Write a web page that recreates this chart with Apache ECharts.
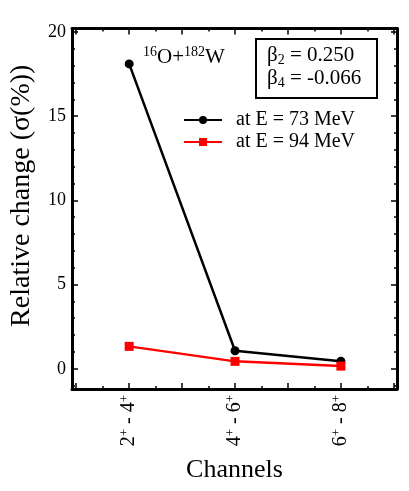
<!DOCTYPE html>
<html>
<head>
<meta charset="utf-8">
<script src="https://cdn.jsdelivr.net/npm/echarts@6/dist/echarts.min.js"></script>
<style>
  html, body { margin: 0; padding: 0; background: #fff; }
  #chart { width: 409px; height: 491px; }
</style>
</head>
<body>
<div id="chart"></div>
<script>
// transitions, e.g. 2+ - 4+
const channelFrom = ['2', '4', '6']
const channelTo = ['4', '6', '8']
const seriesNames = ['at E = 73 MeV', 'at E = 94 MeV']
const valuesE73 = [18.1, 1.07, 0.45]
const valuesE94 = [1.33, 0.44, 0.16]
const yMajorTicks = [0, 5, 10, 15, 20]

const serif = '"Liberation Serif", "DejaVu Serif", serif'
const xPos = channelFrom.map((c, i) => i + 1)

function range(a, b, step) {
  let out = []
  for (let v = a; v <= b + 1e-9; v += step) out.push(+v.toFixed(2))
  return out
}
const xMajor = range(0.5, 3.5, 0.5)
const xMinor = range(0.75, 3.25, 0.5)
const yMinor = range(-1, 20, 1).filter(v => v % 5 !== 0)

const xMin = 0.46, xMax = 3.53
const yMin = -1.2, yMax = 20.2

function xAxisDef(pos, ticks, len, main) {
  return {
    type: 'value', position: pos, min: xMin, max: xMax,
    axisLine: { show: main, onZero: false, lineStyle: { color: '#000', width: 3 } },
    axisTick: { show: true, inside: true, length: len, customValues: ticks, lineStyle: { color: '#000', width: 1.5 } },
    axisLabel: { show: false },
    splitLine: { show: false }
  }
}
function yAxisDef(pos, ticks, len, main) {
  return {
    type: 'value', position: pos, min: yMin, max: yMax,
    axisLine: { show: main, onZero: false, lineStyle: { color: '#000', width: 3 } },
    axisTick: { show: true, inside: true, length: len, customValues: ticks, lineStyle: { color: '#000', width: 1.5 } },
    axisLabel: { show: false },
    splitLine: { show: false }
  }
}

const xAxes = [
  xAxisDef('bottom', xMajor, 6, true),
  xAxisDef('bottom', xMinor, 3, false),
  xAxisDef('top', xMajor, 6, true),
  xAxisDef('top', xMinor, 3, false)
]
xAxes[0].axisLabel = {
  show: true,
  customValues: xPos,
  rotate: 90,
  margin: 6,
  color: '#000',
  fontFamily: serif,
  fontSize: 20,
  formatter: function (v) {
    const i = Math.round(v) - 1
    return '{n|' + channelFrom[i] + '}{s|+}{n| - ' + channelTo[i] + '}{s|+}'
  },
  rich: {
    n: { fontSize: 20, fontFamily: serif, color: '#000', lineHeight: 22 },
    s: { fontSize: 13, fontFamily: serif, color: '#000', verticalAlign: 'top', lineHeight: 22 }
  }
}
xAxes[0].name = 'Channels'
xAxes[0].nameLocation = 'middle'
xAxes[0].nameGap = 68
xAxes[0].nameTextStyle = { color: '#000', fontFamily: serif, fontSize: 26 }

const yAxes = [
  yAxisDef('left', yMajorTicks, 6, true),
  yAxisDef('left', yMinor, 3, false),
  yAxisDef('right', yMajorTicks, 6, true),
  yAxisDef('right', yMinor, 3, false)
]
yAxes[0].axisLabel = {
  show: true,
  customValues: yMajorTicks,
  margin: 6,
  color: '#000',
  fontFamily: serif,
  fontSize: 18
}
yAxes[0].name = 'Relative change (σ(%))'
yAxes[0].nameLocation = 'middle'
yAxes[0].nameGap = 36
yAxes[0].nameTextStyle = { color: '#000', fontFamily: serif, fontSize: 28, padding: [0, 0, 0, 26] }

const chart = echarts.init(document.getElementById('chart'))
const option = {
  backgroundColor: '#fff',
  animation: false,
  grid: { left: 68, right: 12, top: 28.5, bottom: 102, containLabel: false },
  legend: {
    left: 178,
    top: 105,
    orient: 'vertical',
    itemWidth: 38,
    itemHeight: 10,
    itemGap: 2,
    textStyle: { color: '#000', fontFamily: serif, fontSize: 20, lineHeight: 20, padding: [0, 0, 0, 9] },
    data: seriesNames
  },
  xAxis: xAxes,
  yAxis: yAxes,
  graphic: [
    {
      type: 'text', left: 143, top: 45,
      style: {
        text: '{s|16}{n|O+}{s|182}{n|W}',
        rich: {
          n: { fontSize: 21, fontFamily: serif, fill: '#000', lineHeight: 24 },
          s: { fontSize: 14, fontFamily: serif, fill: '#000', verticalAlign: 'top', lineHeight: 24 }
        }
      }
    },
    {
      type: 'rect',
      shape: { x: 256, y: 39, width: 121, height: 59 },
      style: { fill: 'none', stroke: '#000', lineWidth: 2 }
    },
    {
      type: 'text', left: 267, top: 45,
      style: {
        text: '{n|β}{b|2}{n| = 0.250}\n{n|β}{b|4}{n| = -0.066}',
        rich: {
          n: { fontSize: 21, fontFamily: serif, fill: '#000', lineHeight: 23 },
          b: { fontSize: 14, fontFamily: serif, fill: '#000', verticalAlign: 'bottom', lineHeight: 23 }
        }
      }
    }
  ],
  series: [
    {
      name: seriesNames[0],
      type: 'line',
      data: xPos.map((x, i) => [x, valuesE73[i]]),
      symbol: 'circle',
      symbolSize: 9,
      lineStyle: { color: '#000', width: 2.5 },
      itemStyle: { color: '#000' }
    },
    {
      name: seriesNames[1],
      type: 'line',
      data: xPos.map((x, i) => [x, valuesE94[i]]),
      symbol: 'rect',
      symbolSize: 9,
      lineStyle: { color: '#ff0000', width: 2.5 },
      itemStyle: { color: '#ff0000' }
    }
  ]
}
chart.setOption(option)
</script>
</body>
</html>
